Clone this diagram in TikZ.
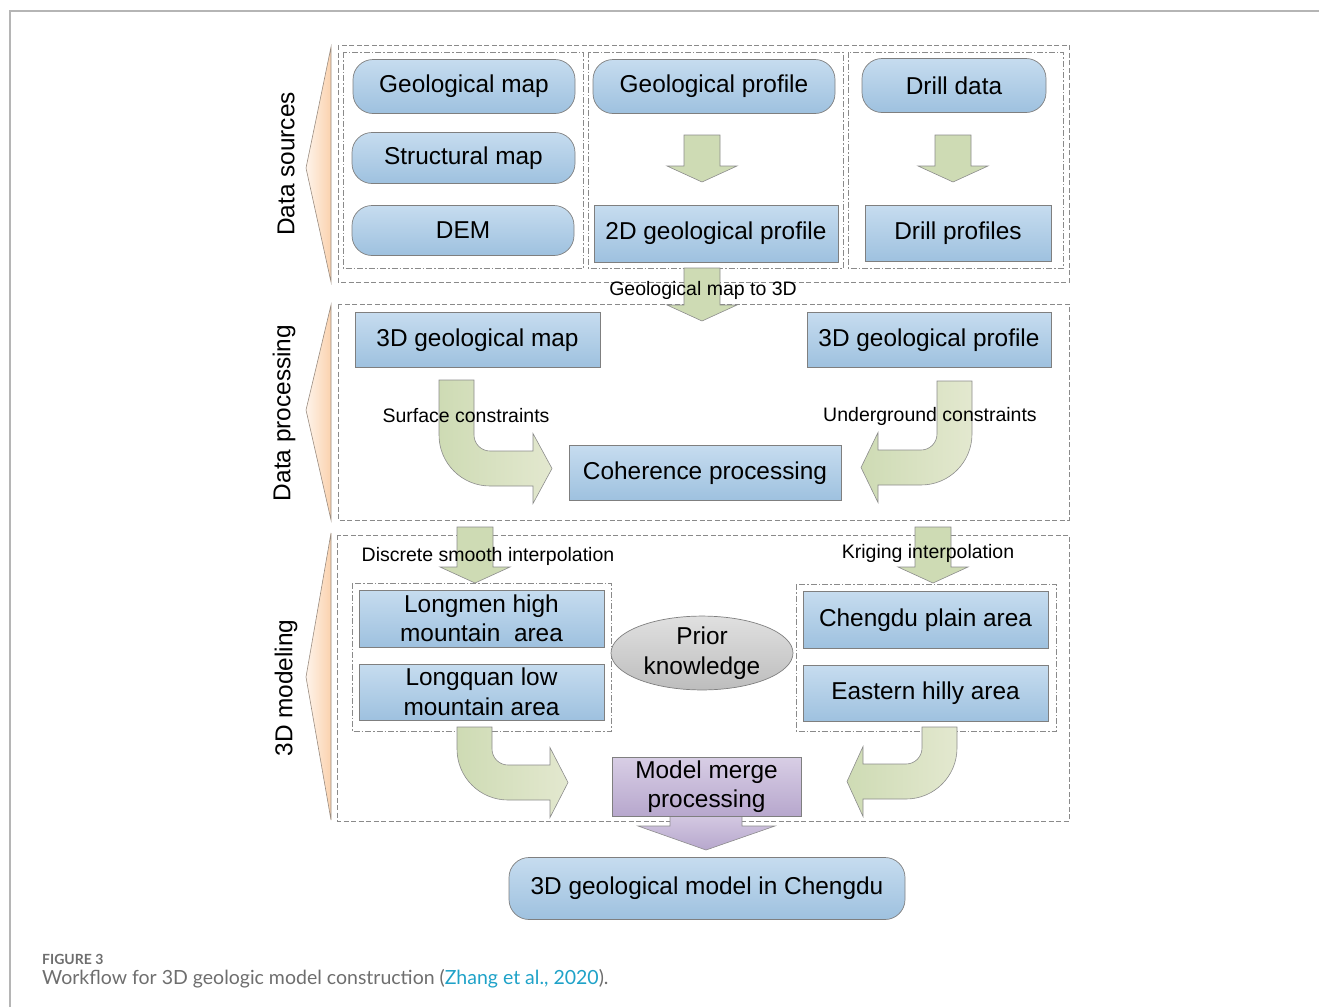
\documentclass[tikz,border=0pt]{standalone}
\usepackage{fontspec}
\setmainfont{Liberation Sans}
\newfontfamily\captionfont{Lato}
\usepackage{xcolor}
\usetikzlibrary{shapes.geometric}

\definecolor{boxtop}{HTML}{C6DCEF}
\definecolor{boxbot}{HTML}{9EC1DF}
\definecolor{boxline}{HTML}{7F7F7F}
\definecolor{mergetop}{HTML}{D8CEE5}
\definecolor{mergebot}{HTML}{B7A7CD}
\definecolor{priortop}{HTML}{E0E0E0}
\definecolor{priorbot}{HTML}{BDBDBD}
\definecolor{greenA}{HTML}{CEDBB4}
\definecolor{greenB}{HTML}{E3E8CF}
\definecolor{arrowline}{HTML}{8C8C8C}
\definecolor{frameline}{HTML}{8A8A8A}
\definecolor{peach}{HTML}{FBD2AE}
\definecolor{trline}{HTML}{9A8C80}
\definecolor{pageline}{HTML}{B5B5B5}
\definecolor{captiongray}{HTML}{6E6E6E}
\definecolor{citeblue}{HTML}{1FA2C8}

% straight fat arrow pointing down: centre x, top y, tip y
\newcommand{\fatdown}[3]{%
  \draw[fatarrow] ({#1-18},{#2}) -- ({#1+18},{#2}) -- ({#1+18},{#3-16}) -- ({#1+35},{#3-16})
    -- ({#1},{#3}) -- ({#1-35},{#3-16}) -- ({#1-18},{#3-16}) -- cycle;}
% bent fat arrow, down then right: shaft left x, top y, band top y, head base x, tip x
\newcommand{\bentright}[5]{%
  \draw[greenarrow] ({#1},{#2}) -- ({#1+35},{#2}) -- ({#1+35},{#3-16})
    .. controls ({#1+35},{#3-7.2}) and ({#1+42.2},{#3}) .. ({#1+51},{#3})
    -- ({#4},{#3}) -- ({#4},{#3-17.5}) -- ({#5},{#3+17.5}) -- ({#4},{#3+52.5}) -- ({#4},{#3+35})
    -- ({#1+51},{#3+35}) .. controls ({#1+22.8},{#3+35}) and ({#1},{#3+12.2}) .. ({#1},{#3-16})
    -- cycle;}
% bent fat arrow, down then left: shaft right x, top y, band top y, head base x, tip x
\newcommand{\bentleft}[5]{%
  \draw[greenarrow] ({#1-35},{#2}) -- ({#1},{#2}) -- ({#1},{#3-16})
    .. controls ({#1},{#3+12.2}) and ({#1-22.8},{#3+35}) .. ({#1-51},{#3+35})
    -- ({#4},{#3+35}) -- ({#4},{#3+52.5}) -- ({#5},{#3+17.5}) -- ({#4},{#3-17.5}) -- ({#4},{#3})
    -- ({#1-51},{#3}) .. controls ({#1-42.2},{#3}) and ({#1-35},{#3-7.2}) .. ({#1-35},{#3-16})
    -- cycle;}

\begin{document}
\begin{tikzpicture}[x=1pt,y=-1pt,
    bluebox/.style={draw=boxline, line width=0.7pt, top color=boxtop, bottom color=boxbot,
      inner sep=0pt, align=center, font=\fontsize{24.4}{29.5}\selectfont},
    roundbox/.style={bluebox, rounded corners=20pt},
    mergebox/.style={bluebox, top color=mergetop, bottom color=mergebot},
    priorshape/.style={bluebox, ellipse, top color=priortop, bottom color=priorbot},
    greenarrow/.style={draw=arrowline, line width=0.6pt, left color=greenA, right color=greenB},
    fatarrow/.style={draw=arrowline, line width=0.6pt, left color=greenA, middle color=greenB, right color=greenA},
    purplearrow/.style={draw=arrowline, line width=0.6pt, top color=mergetop, bottom color=mergebot},
    sectionframe/.style={draw=frameline, line width=0.7pt, dash pattern=on 5pt off 2.5pt},
    groupframe/.style={draw=frameline, line width=0.7pt, dash pattern=on 6pt off 2pt on 1.5pt off 2pt},
    sidetri/.style={draw=trline, line width=0.6pt, left color=peach!25, right color=peach},
    sidelabel/.style={rotate=90, inner sep=0pt, font=\fontsize{24.4}{28}\selectfont},
    steplabel/.style={inner sep=0pt, font=\fontsize{19.5}{23}\selectfont}]
  \useasboundingbox (0,0) rectangle (1319,1007);
  \draw[pageline, line width=1.5pt] (10,1007) -- (10,11) -- (1319,11);

  % frames
  \draw[sectionframe] (338,45) rectangle (1069,282);
  \draw[groupframe] (343,52) rectangle (583,268);
  \draw[groupframe] (588,52) rectangle (843,268);
  \draw[groupframe] (848,52) rectangle (1063,268);
  \draw[sectionframe] (338,304) rectangle (1069,520);
  \draw[sectionframe] (337,535) rectangle (1069,821);
  \draw[groupframe] (352,583) rectangle (611,731);
  \draw[groupframe] (796,584) rectangle (1056,731);

  % stage markers
  \draw[sidetri] (331,47) -- (306,168) -- (331,282) -- cycle;
  \draw[sidetri] (331,305) -- (306,410) -- (331,520) -- cycle;
  \draw[sidetri] (331,533) -- (306,677) -- (331,820) -- cycle;
  \node[sidelabel] (lblsrc) at (286,164) {Data sources};
  \node[sidelabel] (lblproc) at (284,413) {Data processing};
  \node[sidelabel] (lblmodel) at (286,688) {3D modeling};

  % fat arrows
  \fatdown{702}{135}{182}
  \fatdown{953}{135}{182}
  \fatdown{702}{268}{321}
  \fatdown{475}{527}{583}
  \fatdown{933}{527}{583}
  \bentright{439}{380}{451}{533}{552}
  \bentleft{972}{381}{450}{878}{861}
  \bentright{457}{727}{765}{550}{568}
  \bentleft{957}{727}{764}{863}{847}
  \draw[purplearrow] (670,810) -- (742,810) -- (742,826) -- (775,826) -- (706,850)
    -- (638,826) -- (670,826) -- cycle;

  % data sources
  \node[roundbox, minimum width=222pt, minimum height=54pt] (geomap) at (464,86.5) {Geological map};
  \node[roundbox, minimum width=223pt, minimum height=51pt] (structmap) at (463.5,158) {Structural map};
  \node[roundbox, minimum width=222pt, minimum height=50pt] (dem) at (463,230.5) {DEM};
  \node[roundbox, minimum width=242pt, minimum height=54pt] (geoprof) at (714,86.5) {Geological profile};
  \node[roundbox, minimum width=184pt, minimum height=54pt] (drill) at (954,85.5) {Drill data};
  \node[bluebox, minimum width=244pt, minimum height=57pt] (prof2d) at (716,233.5) {2D geological profile};
  \node[bluebox, minimum width=186pt, minimum height=56pt] (drillprof) at (958,233.5) {Drill profiles};

  % data processing
  \node[bluebox, minimum width=245pt, minimum height=55pt] (map3d) at (477.5,340) {3D geological map};
  \node[bluebox, minimum width=244pt, minimum height=55pt] (prof3d) at (929,340) {3D geological profile};
  \node[bluebox, minimum width=272pt, minimum height=55pt] (coher) at (705,473) {Coherence processing};

  % 3D modeling
  \node[bluebox, minimum width=245pt, minimum height=57pt] (longmen) at (481.5,618.5) {Longmen high\\mountain\ \ area};
  \node[bluebox, minimum width=245pt, minimum height=56pt] (longquan) at (481.5,692) {Longquan low\\mountain area};
  \node[bluebox, minimum width=245pt, minimum height=57pt] (chengdu) at (925.5,620) {Chengdu plain area};
  \node[bluebox, minimum width=245pt, minimum height=56pt] (eastern) at (925.5,693.5) {Eastern hilly area};
  \node[priorshape, minimum width=182pt, minimum height=70pt] (prior) at (702,653) {Prior\\knowledge};
  \node[mergebox, minimum width=189pt, minimum height=59pt] (merge) at (706.5,786.5) {Model merge\\processing};
  \node[roundbox, minimum width=396pt, minimum height=62pt] (final) at (707,888.5) {3D geological model in Chengdu};

  % arrow labels
  \node[steplabel] (lblto3d) at (703,290) {Geological map to 3D};
  \node[steplabel] (lblsurf) at (466,416) {Surface constraints};
  \node[steplabel] (lblunder) at (930,416) {Underground constraints};
  \node[steplabel] (lbldsi) at (488,556) {Discrete smooth interpolation};
  \node[steplabel] (lblkrig) at (928,553) {Kriging interpolation};

  % caption
  \node[anchor=base west, inner sep=0pt, text=captiongray,
    font=\captionfont\bfseries\fontsize{14}{16}\selectfont] (figno) at (42,964) {FIGURE 3};
  \node[anchor=base west, inner sep=0pt, text=captiongray,
    font=\captionfont\fontsize{19.5}{22}\selectfont] (figcap) at (42,984)
    {Workflow for 3D geologic model construction (\textcolor{citeblue}{Zhang et al., 2020}).};
\end{tikzpicture}
\end{document}
